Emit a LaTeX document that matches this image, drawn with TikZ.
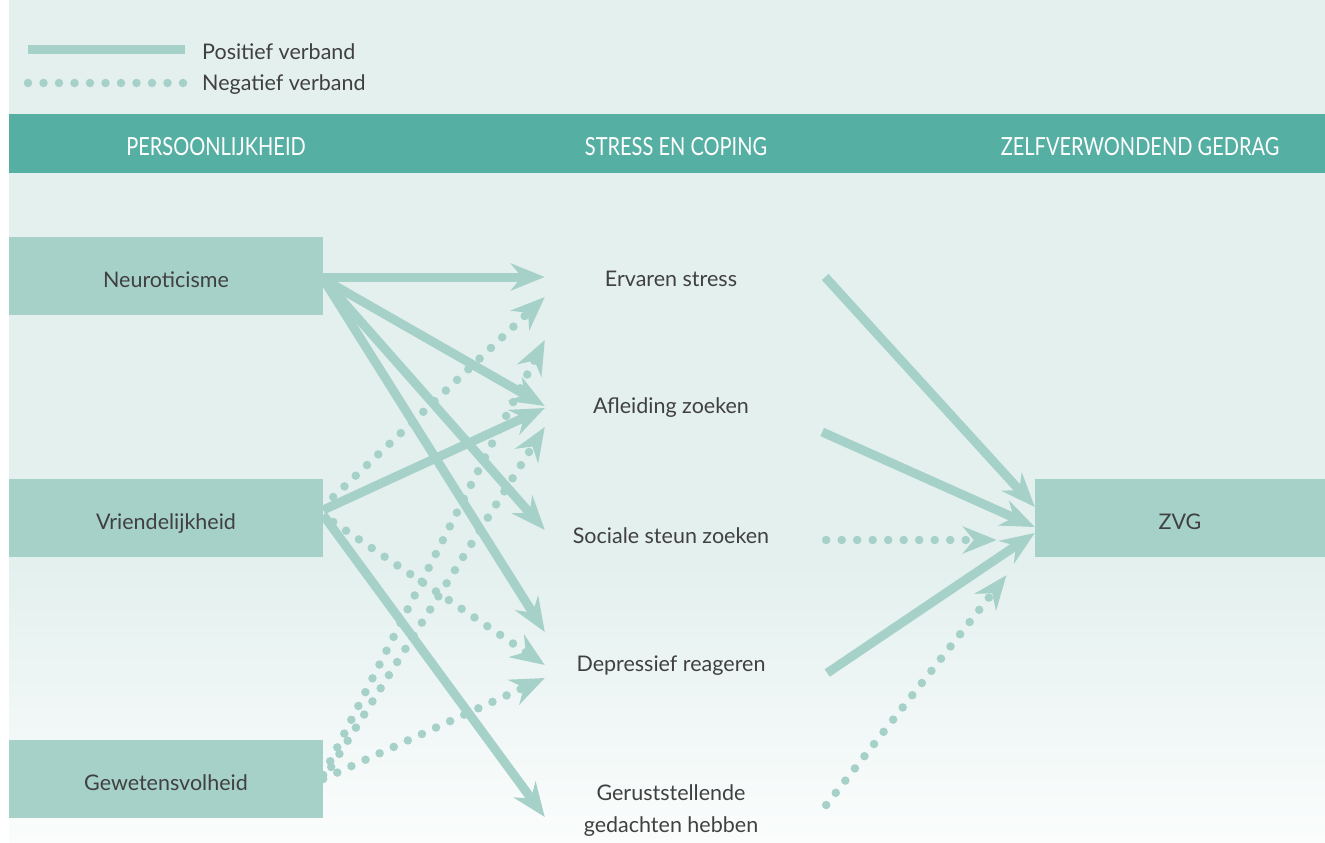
\documentclass[tikz,border=0pt]{standalone}
\usepackage{fontspec}
\setmainfont{Lato}
\newfontfamily\headfont[FakeStretch=0.8]{Lato}
\usetikzlibrary{positioning, arrows.meta}
\definecolor{bgteal}{HTML}{E3F0EE}
\definecolor{bandteal}{HTML}{56AFA3}
\definecolor{softteal}{HTML}{A6D1C8}
\definecolor{inkgrey}{HTML}{404040}

\begin{document}
\begin{tikzpicture}[
          x=1pt, y=-1pt,
          trait/.style={rectangle, fill=softteal, minimum width=314pt,
                        minimum height=78pt, inner sep=0pt, text=inkgrey,
                        text height=23.5pt, text depth=0pt,
                        font=\fontsize{21.5}{26}\selectfont},
          outcome/.style={trait, minimum width=290pt},
          coping/.style={minimum width=252pt, inner sep=0pt, align=center,
                         text=inkgrey, font=\fontsize{21.5}{32}\selectfont},
          header/.style={text=white, inner sep=0pt,
                         font=\headfont\fontsize{25}{30}\selectfont},
          legendtext/.style={text=inkgrey, inner sep=0pt,
                             font=\fontsize{21.5}{26}\selectfont},
          posline/.style={line width=9pt, softteal},
          negline/.style={posline, line width=8.5pt, line cap=round,
                          dash pattern=on 0pt off 15.5pt},
          posarrow/.style={posline, -{Stealth[length=34pt, width=27pt, inset=11pt]}},
          negarrow/.style={negline, -{Stealth[length=34pt, width=27pt, inset=11pt]}},
        ]
        \useasboundingbox (0,0) rectangle (1325,843);
        \fill[bgteal] (9,0) rectangle (1325,560);
        \shade[top color=bgteal, bottom color=bgteal!15] (9,560) rectangle (1325,843);

        \coordinate (legpos) at (28,50);
        \coordinate (legposend) at (185,50);
        \coordinate (legneg) at (28,83);
        \coordinate (legnegend) at (183.5,83);
        \draw[posline] (legpos) -- (legposend);
        \draw[negline] (legneg) -- (legnegend);
        \node[legendtext, right=17pt of legposend, yshift=-1.5pt] (legposlabel) {Positief verband};
        \node[legendtext, right=18.5pt of legnegend, yshift=-1.5pt] (legneglabel) {Negatief verband};

        \node[fill=bandteal, minimum width=1316pt, minimum height=59pt, inner sep=0pt] (band) at (667,143.5) {};
        \node[header] (hdtrait) at (216,147) {PERSOONLIJKHEID};
        \node[header] (hdcoping) at (676,147) {STRESS EN COPING};
        \node[header] (hdzvg) at (1140,147) {ZELFVERWONDEND GEDRAG};

        \node[trait] (neuro)  at (166,276) {Neuroticisme};
        \node[trait] (vriend) at (166,518) {Vriendelijkheid};
        \node[trait] (gewet)  at (166,779) {Gewetensvolheid};
        \node[outcome] (zvg)  at (1180,518) {ZVG};

        \node[coping] (stress) at (671,279) {Ervaren stress};
        \node[coping] (afleid) at (671,407.5) {Afleiding zoeken};
        \node[coping] (steun)  at (671,536) {Sociale steun zoeken};
        \node[coping] (depr)   at (671,665.5) {Depressief reageren};
        \node[coping] (gerust) at (671,811) {Geruststellende\\ gedachten hebben};

        \draw[posarrow] ([yshift=-1pt]neuro.east) -- ([yshift=2pt]stress.west);
        \draw[posarrow] ([yshift=-3pt]neuro.east) -- ([yshift=1.5pt]afleid.west);
        \draw[posarrow] ([yshift=-3pt]neuro.east) -- ([yshift=6pt]steun.west);
        \draw[posarrow] ([yshift=-3pt]neuro.east) -- ([yshift=33.5pt]depr.west);
        \draw[posarrow] ([yshift=8pt]vriend.east) -- ([yshift=-0.5pt]afleid.west);
        \draw[posarrow] ([yshift=3pt]vriend.east) -- ([yshift=-6pt]gerust.west);
        \draw[negarrow] ([xshift=10pt, yshift=21pt]vriend.east) -- ([yshift=-18pt]stress.west);
        \draw[negarrow] ([xshift=10pt, yshift=-4pt]vriend.east) -- ([yshift=0.5pt]depr.west);
        \draw[negarrow] ([yshift=4pt]gewet.east) -- ([yshift=67.5pt]afleid.west);
        \draw[negarrow] ([xshift=8pt, yshift=12pt]gewet.east) -- ([yshift=-19.5pt]afleid.west);
        \draw[negarrow] (gewet.east) -- ([yshift=-12.5pt]depr.west);

        \draw[posarrow] ([xshift=28pt, yshift=2pt]stress.east) -- ([yshift=11pt]zvg.west);
        \draw[posarrow] ([xshift=25pt, yshift=-24.5pt]afleid.east) -- ([yshift=-9pt]zvg.west);
        \draw[negarrow, shorten >=38pt] ([xshift=29pt, yshift=-4pt]steun.east) -- ([yshift=-22pt]zvg.west);
        \draw[posarrow] ([xshift=30pt, yshift=-7.5pt]depr.east) -- ([yshift=-15pt]zvg.west);
        \draw[negarrow, shorten >=46pt] ([xshift=29pt, yshift=6pt]gerust.east) -- ([yshift=-21pt]zvg.west);
      \end{tikzpicture}
\end{document}
